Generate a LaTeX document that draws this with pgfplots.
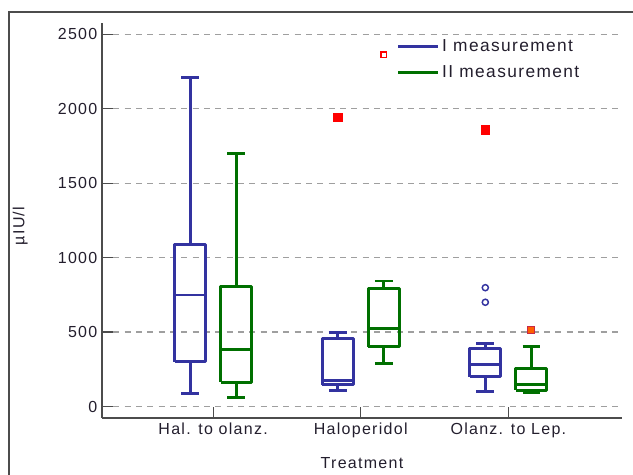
\documentclass[border=0pt]{standalone}
\usepackage{pgfplots}
\pgfplotsset{compat=1.18}
\usepackage{fontspec}
\setmainfont{Liberation Sans}[LetterSpace=8]
\definecolor{cblue}{RGB}{51,51,160}
\definecolor{cgreen}{RGB}{0,112,0}
\definecolor{txt}{RGB}{35,30,45}
\definecolor{corange}{RGB}{255,95,0}
\newcommand{\chartfont}{\fontsize{12}{14}\selectfont}
\newcommand{\legfont}{\fontsize{13}{15}\selectfont}
% box: #1 colour, #2 left, #3 centre, #4 right, #5 cap left, #6 cap right,
%      #7 lower whisker, #8 lower quartile, #9 median ; then upper quartile \uq, upper whisker \uw
\newcommand{\boxdraw}[9]{%
  \addplot[forget plot, #1, line width=2.2pt, line join=round] coordinates {(#2,#8) (#4,#8) (#4,\uq) (#2,\uq) (#2,#8)};
  \addplot[forget plot, #1, line width=2.2pt] coordinates {(#2,#9) (#4,#9)};
  \addplot[forget plot, #1, line width=2.2pt] coordinates {(#3,\uq) (#3,\uw)};
  \addplot[forget plot, #1, line width=2.2pt] coordinates {(#5,\uw) (#6,\uw)};
  \addplot[forget plot, #1, line width=2.2pt] coordinates {(#3,#8) (#3,#7)};
  \addplot[forget plot, #1, line width=2.2pt] coordinates {(#5,#7) (#6,#7)};
}
\begin{document}
\begin{tikzpicture}
\useasboundingbox (0,0) rectangle (474.75pt,356.25pt);
\draw[line width=1.5pt, color=black!70] (6.375pt,-5pt) -- (6.375pt,347.25pt) -- (480pt,347.25pt);
\begin{axis}[
  at={(76.5pt,42.75pt)}, anchor=south west,
  scale only axis, width=390pt, height=296.25pt,
  xmin=0.247, xmax=3.77, ymin=-77, ymax=2575,
  axis lines*=left,
  axis line style={black!70, line width=0.9pt},
  xtick={1,2,3},
  xticklabels={Hal. to olanz.,Haloperidol,Olanz. to Lep.},
  ytick={0,500,1000,1500,2000,2500},
  /pgf/number format/1000 sep={},
  tick align=inside, major tick length=8pt,
  tick style={black!70, line width=0.9pt},
  ymajorgrids,
  grid style={gray!75, line width=0.9pt, dash pattern=on 4.5pt off 4pt},
  /pgf/number format/assume math mode=true,
  tick label style={font=\chartfont, text=txt},
  label style={font=\chartfont, text=txt},
  xlabel={Treatment},
  ylabel={µIU/l},
  xlabel style={at={(axis description cs:0.5,-0.114)}, anchor=center},
  ylabel style={at={(axis description cs:-0.157,0.486)}, anchor=center},
  legend style={at={(axis description cs:0.566,0.965)}, anchor=north west,
    draw=none, fill=none, font=\legfont, text=txt, inner sep=0pt,
    row sep=5pt, nodes={inner sep=2pt}},
  legend cell align=left,
  legend image code/.code={\path (0pt,0pt) -- (30pt,0pt); \draw[#1] (0pt,0pt) -- (26pt,0pt);},
]
\addlegendimage{cblue, line width=2.2pt}
\addlegendentry{I measurement}
\addlegendimage{cgreen, line width=2.2pt}
\addlegendentry{II measurement}

% Hal. to olanz.  (blue: q3=1090, uw=2210 ; green: q3=805, uw=1701)
\def\uq{1090}\def\uw{2210}
\boxdraw{cblue}{0.739}{0.844}{0.949}{0.784}{0.904}{89}{301}{749}
\def\uq{805}\def\uw{1701}
\boxdraw{cgreen}{1.051}{1.156}{1.261}{1.096}{1.216}{62}{163}{386}
% Haloperidol (blue: q3=455, uw=498 ; green: q3=795, uw=843)
\def\uq{455}\def\uw{498}
\boxdraw{cblue}{1.739}{1.844}{1.949}{1.784}{1.904}{108}{145}{175}
\def\uq{795}\def\uw{843}
\boxdraw{cgreen}{2.051}{2.156}{2.261}{2.096}{2.216}{290}{402}{526}
% Olanz. to Lep. (blue: q3=391, uw=425 ; green: q3=257, uw=400)
\def\uq{391}\def\uw{425}
\boxdraw{cblue}{2.739}{2.844}{2.949}{2.784}{2.904}{100}{200}{284}
\def\uq{257}\def\uw{400}
\boxdraw{cgreen}{3.051}{3.156}{3.261}{3.096}{3.216}{92}{108}{150}

% outliers
\addplot[forget plot, only marks, mark=square*, mark size=3.2pt, draw=red, fill=red] coordinates {(1.844,1941) (2.844,1858)};
\addplot[forget plot, only marks, mark=square, mark size=2pt, red, line width=1pt] coordinates {(2.156,2362)};
\addplot[forget plot, only marks, mark=o, mark size=2.3pt, cblue, line width=1.1pt] coordinates {(2.844,798) (2.844,700)};
\addplot[forget plot, only marks, mark=square*, mark size=2.6pt, draw={rgb,255:red,200;green,40;blue,70}, fill=corange, line width=0.8pt] coordinates {(3.156,514)};
\end{axis}
\end{tikzpicture}
\end{document}
